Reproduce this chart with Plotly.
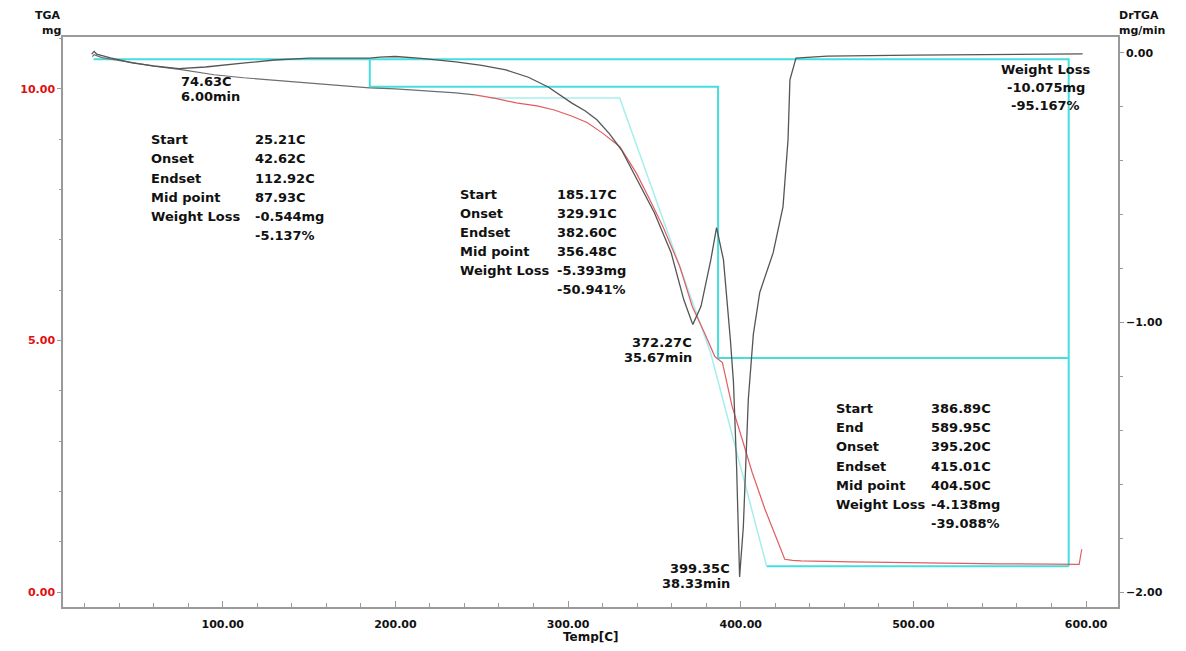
import plotly.graph_objects as go

# ---------------- data ----------------
# TGA curve (Temp [C], mass [mg])
tga_temp = [24.5, 25.5, 30, 44, 50, 60, 76, 95, 112, 130, 150, 170, 185, 200, 220, 235, 246,
            258, 270, 282, 292, 302, 311, 320, 330, 339.5, 347, 355, 364.7, 372, 379, 385,
            389.4, 395, 400.8, 406.6, 414, 420, 425.5, 430, 435, 464, 500, 550, 580, 596, 597.5]
tga_mass = [10.64, 10.68, 10.62, 10.54, 10.50, 10.45, 10.38, 10.28, 10.22, 10.17, 10.12, 10.07, 10.02,
            10.00, 9.96, 9.92, 9.88, 9.81, 9.72, 9.66, 9.58, 9.46, 9.33, 9.12, 8.85, 8.33, 7.82, 7.26,
            6.47, 5.67, 5.15, 4.68, 4.56, 3.69, 3.04, 2.38, 1.65, 1.11, 0.65, 0.63, 0.62, 0.60, 0.58,
            0.56, 0.555, 0.55, 0.85]
tga_split_temp = 246  # early part of the TGA trace appears grey

# DrTGA curve (Temp [C], mg/min)
dr_temp = [24.1, 25.5, 27, 35, 47.6, 60, 74.6, 90, 113, 130, 150, 170, 185, 191, 200, 215, 235,
           250, 264, 277, 288.5, 302, 310, 316.7, 324, 331, 340, 350, 359.7, 367, 371.8, 372.27,
           377, 382.7, 386, 390, 394, 395.8, 397.6, 398.7, 399.35, 401.5, 403, 404.4, 407.3, 411,
           418.8, 424.5, 427.4, 428.5, 432, 450, 500, 550, 598]
dr_rate = [-0.004, 0.006, -0.004, -0.018, -0.037, -0.048, -0.058, -0.052, -0.037, -0.026, -0.019,
           -0.019, -0.019, -0.015, -0.013, -0.020, -0.033, -0.046, -0.063, -0.090, -0.126, -0.185,
           -0.215, -0.248, -0.300, -0.360, -0.470, -0.593, -0.741, -0.915, -1.000, -1.007, -0.940,
           -0.767, -0.648, -0.767, -1.063, -1.222, -1.533, -1.778, -1.944, -1.760, -1.533, -1.285,
           -1.044, -0.889, -0.741, -0.570, -0.322, -0.100, -0.019, -0.012, -0.008, -0.005, -0.003]

# analysis results
step_temps = [25.21, 185.17, 386.89, 589.95]      # start of each step / end of last
step_mass = [10.587, 10.043, 4.650, 0.512]        # mass at those temperatures
onset2, endset2 = 329.91, 382.60
endset3 = 415.01
tangent_from = 255
tangent_mass = [9.82, 9.82, 4.75, 0.512]

peak_temps = [74.63, 372.27, 399.35]
peak_times = [6.00, 35.67, 38.33]

block1_labels = ["Start", "Onset", "Endset", "Mid point", "Weight Loss", ""]
block1_values = ["25.21C", "42.62C", "112.92C", "87.93C", "-0.544mg", "-5.137%"]
block2_labels = ["Start", "Onset", "Endset", "Mid point", "Weight Loss", ""]
block2_values = ["185.17C", "329.91C", "382.60C", "356.48C", "-5.393mg", "-50.941%"]
block3_labels = ["Start", "End", "Onset", "Endset", "Mid point", "Weight Loss", ""]
block3_values = ["386.89C", "589.95C", "395.20C", "415.01C", "404.50C", "-4.138mg", "-39.088%"]
total_lines = ["Weight Loss", "-10.075mg", "-95.167%"]

x_ticks = [100, 200, 300, 400, 500, 600]
y_ticks = [0, 5, 10]
y2_ticks = [0, -1, -2]

# ---------------- styling / layout ----------------
OFF = 8                      # page body margin
W, H = 1186 - 2 * OFF, 651 - 2 * OFF
# plot area in page pixels
PL, PR, PT, PB = 53, 1118, 37, 608
L, R, T, B = PL - OFF, PR - OFF, PT - OFF, PB - OFF
FONT = "DejaVu Sans"
CYAN = "#45dedd"
LCYAN = "#a6eeee"
RED = "#e25c62"
GREY = "#6e6e6e"
DRGREY = "#555555"
AXC = "#9a9a9a"

def px(xp):
    return (xp - PL) / (PR - PL)

def py(yp):
    return (PB - yp) / (PB - PT)

fig = go.Figure()

# dark cyan bracket lines
fig.add_trace(go.Scatter(
    x=[step_temps[0], step_temps[3], step_temps[3]],
    y=[step_mass[0], step_mass[0], step_mass[3]],
    mode="lines", line=dict(color=CYAN, width=2), hoverinfo="skip", showlegend=False))
fig.add_trace(go.Scatter(
    x=[step_temps[1], step_temps[1], step_temps[2], step_temps[2], step_temps[3]],
    y=[step_mass[0], step_mass[1], step_mass[1], step_mass[2], step_mass[2]],
    mode="lines", line=dict(color=CYAN, width=2), hoverinfo="skip", showlegend=False))
fig.add_trace(go.Scatter(
    x=[endset3, step_temps[3]], y=[step_mass[3], step_mass[3]],
    mode="lines", line=dict(color=CYAN, width=2), hoverinfo="skip", showlegend=False))
# light cyan tangent lines
fig.add_trace(go.Scatter(
    x=[tangent_from, onset2, endset2, endset3], y=tangent_mass,
    mode="lines", line=dict(color=LCYAN, width=1.5), hoverinfo="skip", showlegend=False))

# TGA
t_early = [t for t in tga_temp if t <= tga_split_temp]
m_early = tga_mass[:len(t_early)]
t_late = tga_temp[len(t_early) - 1:]
m_late = tga_mass[len(t_early) - 1:]
fig.add_trace(go.Scatter(x=t_early, y=m_early, mode="lines",
                         line=dict(color=GREY, width=1.2), showlegend=False))
fig.add_trace(go.Scatter(x=t_late, y=m_late, mode="lines",
                         line=dict(color=RED, width=1.2), showlegend=False))

# DrTGA
fig.add_trace(go.Scatter(x=dr_temp, y=dr_rate, mode="lines", yaxis="y2",
                         line=dict(color=DRGREY, width=1.3), showlegend=False))

ann = []
def text(xp, yp, s, anchor="left", size=13):
    ann.append(dict(x=px(xp), y=py(yp), xref="paper", yref="paper", text=s, showarrow=False,
                    xanchor=anchor, yanchor="middle",
                    font=dict(family=FONT, size=size, color="#111", weight="bold")))

def block(lx, vx, y0, dy, labels, values):
    for i, (lab, val) in enumerate(zip(labels, values)):
        if lab:
            text(lx, y0 + i * dy, lab)
        text(vx, y0 + i * dy, val)

block(140, 245, 140, 19.2, block1_labels, block1_values)
block(452, 550, 195, 19.0, block2_labels, block2_values)
block(831, 927, 409, 19.3, block3_labels, block3_values)
for i, s in enumerate(total_lines):
    text(1045, 70 + i * 18, s, anchor="center")

text(170, 82, f"{peak_temps[0]:.2f}C")
text(170, 97, f"{peak_times[0]:.2f}min")
text(690, 343, f"{peak_temps[1]:.2f}C", anchor="right")
text(690, 358, f"{peak_times[1]:.2f}min", anchor="right")
text(728, 569, f"{peak_temps[2]:.2f}C", anchor="right")
text(728, 584, f"{peak_times[2]:.2f}min", anchor="right")

# axis titles
text(53, 15, "TGA", anchor="right", size=11)
text(53, 30, "mg", anchor="right", size=11)
text(1117, 15, "DrTGA", anchor="left", size=11)
text(1117, 30, "mg/min", anchor="left", size=11)
text(586, 638, "Temp[C]", anchor="center", size=12)

tickfont = dict(family=FONT, size=11, color="#111", weight="bold")

fig.update_layout(
    width=W, height=H, autosize=False,
    margin=dict(l=L, r=W - R, t=T, b=H - B, pad=0),
    paper_bgcolor="white", plot_bgcolor="white",
    annotations=ann,
    xaxis=dict(range=[7.5, 618.5], tickvals=x_ticks, tickformat=".2f",
               ticks="inside", ticklen=6, tickcolor=AXC, showgrid=False, zeroline=False,
               showline=True, linecolor=AXC, linewidth=1.5, mirror=True,
               tickfont=tickfont, ticklabelstandoff=6,
               minor=dict(dtick=20, tick0=0, ticks="inside", ticklen=4, tickcolor=AXC)),
    yaxis=dict(range=[-0.298, 11.03], tickvals=y_ticks, tickformat=".2f",
               ticks="outside", ticklen=4, tickcolor=AXC, showgrid=False, zeroline=False,
               showline=True, linecolor=AXC, linewidth=1.5,
               tickfont=dict(family=FONT, size=11, color="#e01010", weight="bold"),
               minor=dict(dtick=1, tick0=0, ticks="outside", ticklen=2, tickcolor=AXC)),
    yaxis2=dict(range=[-2.0556, 0.0593], tickvals=y2_ticks, tickformat=".2f",
                overlaying="y", side="right",
                ticks="outside", ticklen=4, tickcolor=AXC, showgrid=False, zeroline=False,
                showline=True, linecolor=AXC, linewidth=1.5, tickfont=tickfont,
                minor=dict(dtick=0.2, tick0=0, ticks="outside", ticklen=3, tickcolor=AXC)),
)

fig.write_html("out.html")
